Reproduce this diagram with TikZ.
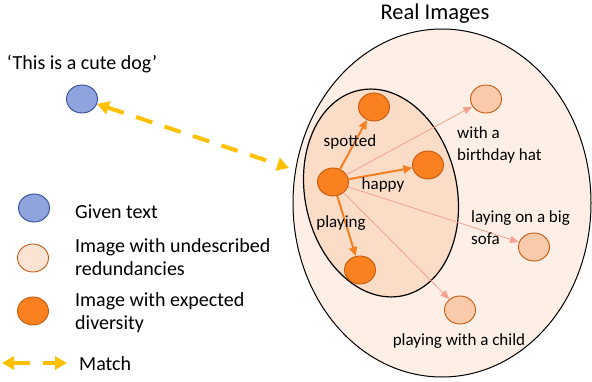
\documentclass[tikz,border=0pt]{standalone}
\usepackage{fontspec}
\setmainfont{Carlito}
\usetikzlibrary{shapes.geometric,arrows.meta}
\definecolor{outerfill}{RGB}{253,239,230}
\definecolor{innerfill}{RGB}{251,221,199}
\definecolor{orangefill}{RGB}{250,128,32}
\definecolor{orangeborder}{RGB}{197,90,17}
\definecolor{lightfill}{RGB}{250,203,170}
\definecolor{legendlight}{RGB}{252,228,213}
\definecolor{bluefill}{RGB}{143,163,222}
\definecolor{blueborder}{RGB}{47,75,150}
\definecolor{arroworange}{RGB}{245,128,32}
\definecolor{arrowpink}{RGB}{244,160,143}
\definecolor{gold}{RGB}{255,192,0}
\begin{document}
\begin{tikzpicture}[x=1pt,y=-1pt,
  dot/.style={ellipse, minimum width=31pt, minimum height=28pt, inner sep=0pt, line width=0.9pt},
  orangedot/.style={dot, fill=orangefill, draw=orangeborder},
  lightdot/.style={dot, fill=lightfill, draw=orangeborder},
  bluedot/.style={dot, fill=bluefill, draw=blueborder},
  lbl/.style={font=\fontsize{17}{22}\selectfont, inner sep=0pt, align=left},
  legtxt/.style={font=\fontsize{20}{23}\selectfont, inner sep=0pt, align=left, anchor=west},
  strong/.style={draw=arroworange, line width=2pt, -{Triangle[length=9pt,width=8pt]}},
  weak/.style={draw=arrowpink, line width=0.8pt, -{Triangle[length=9pt,width=7pt]}},
  matcharrow/.style={draw=gold, line width=4pt, dash pattern=on 17pt off 13pt, {Triangle[length=12pt,width=13pt]}-{Triangle[length=12pt,width=13pt]}}
]
\useasboundingbox (0,0) rectangle (592,382);

% set ellipses
\node[ellipse, draw=black, line width=1pt, fill=outerfill, minimum width=298pt, minimum height=348pt, inner sep=0pt] (real) at (442,203) {};
\node[ellipse, draw=black, line width=1.2pt, fill=innerfill, minimum width=152pt, minimum height=210pt, inner sep=0pt, rotate=12] (inner) at (381,193) {};
\node[font=\fontsize{22.5}{26}\selectfont, inner sep=0pt] (realt) at (435,14) {Real Images};

% image nodes
\node[orangedot] (s) at (333,182) {};
\node[orangedot] (sp) at (374,107) {};
\node[orangedot] (ha) at (428,165) {};
\node[orangedot] (pl) at (360,270) {};
\node[lightdot] (bh) at (486,99) {};
\node[lightdot] (so) at (534,247) {};
\node[lightdot] (ch) at (460,310) {};

% connectors
\draw[weak] (s) -- (bh);
\draw[weak] (s) -- (so);
\draw[weak] (s) -- (ch);
\draw[strong] (s) -- (sp);
\draw[strong] (s) -- (ha);
\draw[strong] (s) -- (pl);

% labels
\node[lbl] (lsp) at (350,142) {spotted};
\node[lbl] (lha) at (383,185) {happy};
\node[lbl] (lpl) at (341,223) {playing};
\node[lbl, anchor=west] (lbh) at (457,145) {with a\\birthday hat};
\node[lbl, anchor=west] (lso) at (471,228) {laying on a big\\sofa};
\node[lbl] (lch) at (459,341) {playing with a child};

% text node
\node[font=\fontsize{20}{24}\selectfont, inner sep=0pt] (txt) at (82,64) {‘This is a cute dog’};
\node[bluedot] (blue) at (82,99) {};
\coordinate (m) at (289,168);
\draw[matcharrow] (blue) -- (m);

% legend
\node[bluedot] (lg1) at (34,208) {};
\node[dot, fill=legendlight, draw=orangeborder] (lg2) at (33,258) {};
\node[orangedot] (lg3) at (33,311) {};
\node[legtxt] (lt1) at (75,212) {Given text};
\node[legtxt] (lt2) at (75,257) {Image with undescribed\\redundancies};
\node[legtxt] (lt3) at (75,313) {Image with expected\\diversity};
\coordinate (la) at (2,363);
\coordinate (lb) at (67,363);
\draw[matcharrow] (la) -- (lb);
\node[legtxt] (lt4) at (79,364) {Match};
\end{tikzpicture}
\end{document}
